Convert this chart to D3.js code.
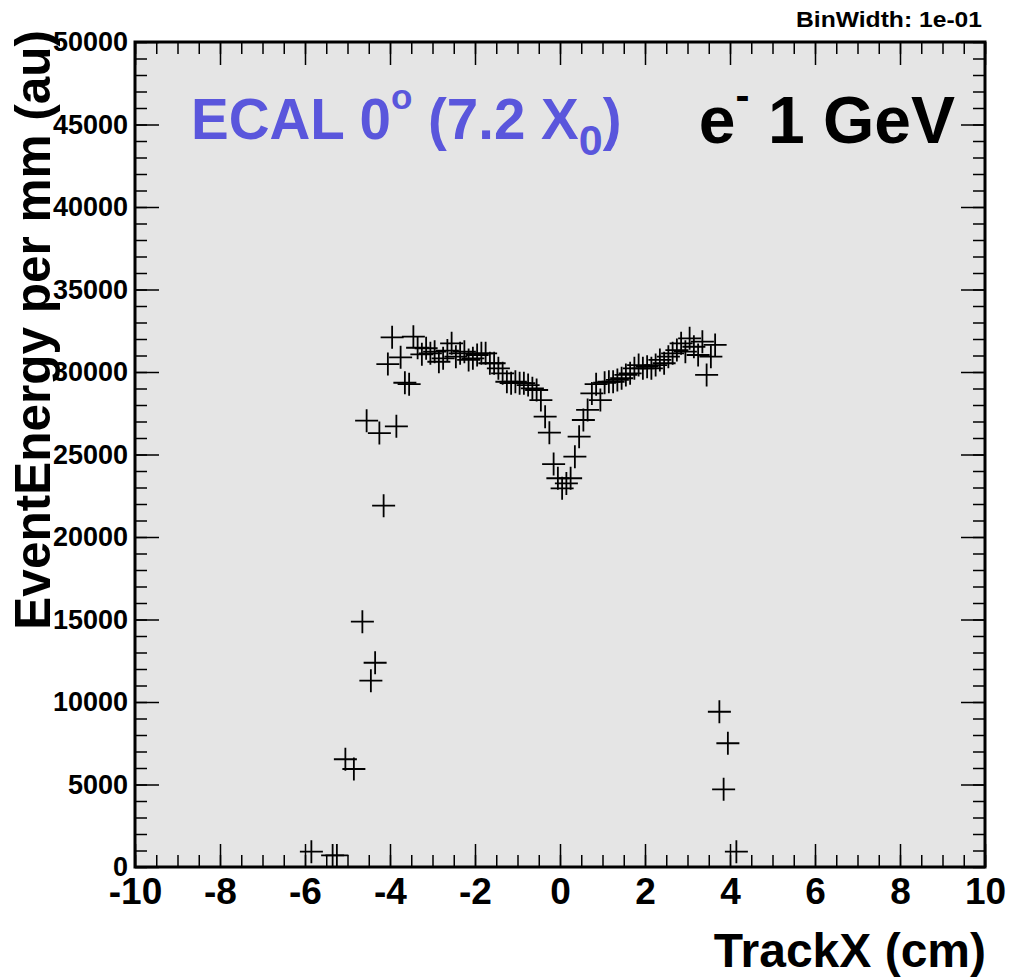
<!DOCTYPE html>
<html>
<head>
<meta charset="utf-8">
<script src="https://cdn.jsdelivr.net/npm/d3@7"></script>
<style>
  body { margin: 0; background: #fff; }
  svg { display: block; font-family: "Liberation Sans", Arial, Helvetica, sans-serif; font-weight: bold; }
</style>
</head>
<body>
<div id="chart"></div>
<script>
// bin centres (cm), bin width 0.1
const binX = [
  -5.85, -5.35, -5.25, -5.05, -4.85, -4.65, -4.55, -4.45, -4.35, -4.25,
  -4.15, -4.05, -3.95, -3.85, -3.75, -3.65, -3.55, -3.45, -3.35, -3.25,
  -3.15, -3.05, -2.95, -2.85, -2.75, -2.65, -2.55, -2.45, -2.35, -2.25,
  -2.15, -2.05, -1.95, -1.85, -1.75, -1.65, -1.55, -1.45, -1.35, -1.25,
  -1.15, -1.05, -0.95, -0.85, -0.75, -0.65, -0.55, -0.45, -0.35, -0.25,
  -0.15, -0.05, 0.05, 0.15, 0.25, 0.35, 0.45, 0.55, 0.65, 0.75,
  0.85, 0.95, 1.05, 1.15, 1.25, 1.35, 1.45, 1.55, 1.65, 1.75,
  1.85, 1.95, 2.05, 2.15, 2.25, 2.35, 2.45, 2.55, 2.65, 2.75,
  2.85, 2.95, 3.05, 3.15, 3.25, 3.35, 3.45, 3.55, 3.65, 3.75,
  3.85, 3.95, 4.15
];

// EventEnergy per mm (au)
const energy = [
  930, 700, 700, 6530, 5940, 14870, 27050, 11290, 12380, 26300,
  21900, 30480, 32100, 26710, 30890, 29350, 29260, 32140, 31470, 31070,
  31440, 31130, 31230, 30620, 30830, 31300, 31740, 30930, 31130, 31230,
  30730, 30830, 31030, 31130, 31130, 30530, 30530, 30220, 29920, 29410,
  29320, 29410, 29320, 29320, 29210, 29010, 28910, 28300, 27290, 26320,
  24420, 23560, 22950, 23250, 23560, 24870, 26080, 27090, 27700, 28700,
  29260, 28300, 29350, 29410, 29410, 29520, 29620, 29820, 29920, 30220,
  30420, 30220, 30320, 30220, 30420, 30730, 30530, 30930, 31130, 31330,
  31740, 31230, 32040, 31530, 31030, 31840, 29820, 30930, 31640, 9410,
  4710, 7500, 930
];

const xMajor = [-10, -8, -6, -4, -2, 0, 2, 4, 6, 8, 10];
const xMinor = d3.range(-10, 10.01, 0.5);
const yMajor = [0, 5000, 10000, 15000, 20000, 25000, 30000, 35000, 40000, 45000, 50000];
const yMinor = d3.range(0, 50001, 1000);

const width = 1011, height = 977;
const margin = { top: 42, right: 26, bottom: 110, left: 135 };
const plotW = width - margin.left - margin.right;
const plotH = height - margin.top - margin.bottom;

const x = d3.scaleLinear().domain([-10, 10]).range([0, plotW]);
const y = d3.scaleLinear().domain([0, 50000]).range([plotH, 0]);

const svg = d3.select('#chart')
  .append('svg')
  .attr('width', width)
  .attr('height', height);

svg.append('rect')
  .attr('width', width)
  .attr('height', height)
  .attr('fill', '#fff');

const g = svg.append('g')
  .attr('transform', `translate(${margin.left},${margin.top})`);

// frame background
g.append('rect')
  .attr('width', plotW)
  .attr('height', plotH)
  .attr('fill', '#e5e5e5');

g.append('clipPath')
  .attr('id', 'clip')
  .append('rect')
  .attr('width', plotW)
  .attr('height', plotH);

// tick helpers
function styleAxis(sel) {
  sel.select('.domain').remove();
  sel.selectAll('.tick line').attr('stroke', '#000').attr('stroke-width', 1.5);
}

// minor ticks, all four sides
g.append('g').attr('transform', `translate(0,${plotH})`)
  .call(d3.axisBottom(x).tickValues(xMinor).tickSize(-12).tickFormat(''))
  .call(styleAxis);
g.append('g')
  .call(d3.axisTop(x).tickValues(xMinor).tickSize(-12).tickFormat(''))
  .call(styleAxis);
g.append('g')
  .call(d3.axisLeft(y).tickValues(yMinor).tickSize(-12).tickFormat(''))
  .call(styleAxis);
g.append('g').attr('transform', `translate(${plotW},0)`)
  .call(d3.axisRight(y).tickValues(yMinor).tickSize(-12).tickFormat(''))
  .call(styleAxis);

// major ticks with labels
const xAxis = g.append('g').attr('transform', `translate(0,${plotH})`)
  .call(d3.axisBottom(x).tickValues(xMajor).tickSize(-23).tickPadding(11).tickFormat(d3.format('d')))
  .call(styleAxis);
xAxis.selectAll('text')
  .attr('fill', '#000')
  .attr('font-size', 37)
  .attr('font-family', '"Liberation Sans", Arial, sans-serif')
  .attr('font-weight', 'bold')
  .text(d => d < 0 ? '-' + Math.abs(d) : d);

g.append('g')
  .call(d3.axisTop(x).tickValues(xMajor).tickSize(-23).tickFormat(''))
  .call(styleAxis);

const yAxis = g.append('g')
  .call(d3.axisLeft(y).tickValues(yMajor).tickSize(-24).tickPadding(7).tickFormat(d3.format('d')))
  .call(styleAxis);
yAxis.selectAll('text')
  .attr('fill', '#000')
  .attr('font-size', 27)
  .attr('font-family', '"Liberation Sans", Arial, sans-serif')
  .attr('font-weight', 'bold');

g.append('g').attr('transform', `translate(${plotW},0)`)
  .call(d3.axisRight(y).tickValues(yMajor).tickSize(-24).tickFormat(''))
  .call(styleAxis);

// data points: "+" markers
const arm = 11.5;
g.append('g')
  .attr('clip-path', 'url(#clip)')
  .selectAll('path')
  .data(binX.map((d, i) => ({ x: d, y: energy[i] })))
  .enter()
  .append('path')
  .attr('d', d => {
    const cx = x(d.x), cy = y(d.y);
    return `M${cx - arm},${cy}H${cx + arm}M${cx},${cy - arm}V${cy + arm}`;
  })
  .attr('stroke', '#000')
  .attr('stroke-width', 1.8)
  .attr('fill', 'none');

// frame border
g.append('rect')
  .attr('width', plotW)
  .attr('height', plotH)
  .attr('fill', 'none')
  .attr('stroke', '#000')
  .attr('stroke-width', 3);

// axis titles
svg.append('text')
  .attr('x', margin.left + plotW + 1)
  .attr('y', 967)
  .attr('text-anchor', 'end')
  .attr('font-size', 48)
  .text('TrackX (cm)');

svg.append('text')
  .attr('transform', 'translate(50,30) rotate(-90)')
  .attr('text-anchor', 'end')
  .attr('font-size', 49.5)
  .text('EventEnergy per mm (au)');

// bin width label
svg.append('text')
  .attr('x', 982)
  .attr('y', 27)
  .attr('text-anchor', 'end')
  .attr('font-size', 22)
  .attr('textLength', 186)
  .attr('lengthAdjust', 'spacingAndGlyphs')
  .text('BinWidth: 1e-01');

// ECAL label
const ecal = svg.append('text')
  .attr('x', 191)
  .attr('y', 139)
  .attr('font-size', 56.5)
  .attr('fill', 'rgb(90,86,220)');
ecal.append('tspan').text('ECAL 0');
ecal.append('tspan').attr('font-size', 35).attr('dy', -30).text('o');
ecal.append('tspan').attr('dy', 30).text(' (7.2 X');
ecal.append('tspan').attr('font-size', 43).attr('dy', 16).text('0');
ecal.append('tspan').attr('dy', -16).text(')');

// beam label
const beam = svg.append('text')
  .attr('x', 955)
  .attr('y', 143)
  .attr('text-anchor', 'end')
  .attr('font-size', 66)
  .attr('fill', '#000');
beam.append('tspan').text('e');
beam.append('tspan').attr('font-size', 42).attr('dy', -33).text('-');
beam.append('tspan').attr('dy', 33).text(' 1 GeV');
</script>
</body>
</html>
